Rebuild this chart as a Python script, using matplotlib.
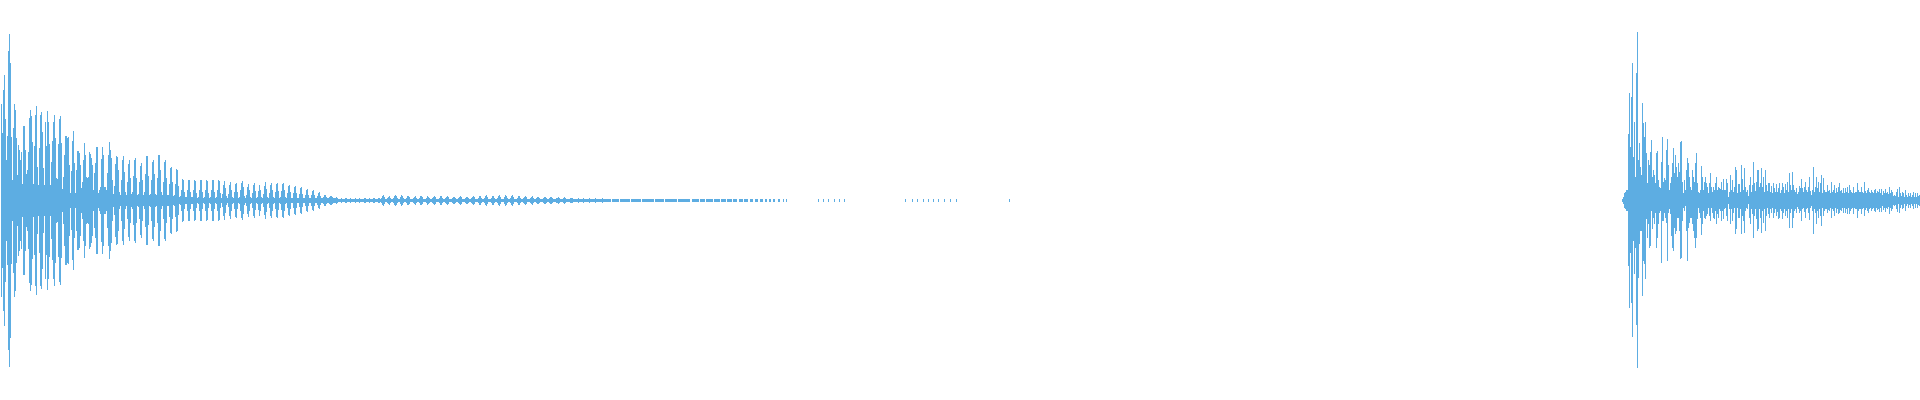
import numpy as np
import matplotlib.pyplot as plt

# ---------------- WAVEFORM DATA ----------------
# peak amplitude per pixel column, in 1/200 of full scale

# first hit, columns 0-109
head_amp = [
    96, 67, 110, 125, 81, 40, 64, 149, 166, 137,
    63, 20, 72, 96, 90, 62, 25, 55, 50, 40,
    48, 16, 74, 74, 50, 26, 30, 48, 82, 90,
    84, 58, 16, 54, 85, 94, 33, 15, 52, 85,
    88, 68, 32, 15, 78, 54, 89, 78, 56, 15,
    38, 59, 78, 85, 62, 22, 21, 56, 81, 84,
    57, 11, 23, 45, 64, 64, 62, 63, 35, 7,
    29, 59, 69, 37, 7, 30, 49, 49, 47, 35,
    12, 18, 40, 57, 45, 23, 22, 23, 48, 46,
    42, 35, 10, 27, 37, 53, 53, 7, 10, 13,
    41, 53, 45, 13, 13, 10, 27, 45, 58, 50,
]

# columns 110-219
decay_amp = [
    42, 20, 6, 14, 36, 44, 43, 30, 8, 5,
    20, 40, 44, 28, 8, 5, 18, 36, 40, 22,
    6, 8, 24, 40, 42, 22, 5, 6, 18, 34,
    37, 20, 5, 8, 26, 44, 44, 24, 5, 6,
    20, 38, 40, 26, 6, 5, 22, 45, 45, 30,
    8, 5, 18, 38, 40, 22, 5, 5, 16, 32,
    33, 18, 4, 5, 16, 31, 30, 14, 3, 4,
    10, 21, 20, 8, 3, 3, 10, 20, 20, 8,
    3, 3, 10, 20, 19, 7, 2, 3, 10, 20,
    20, 8, 2, 3, 10, 20, 19, 7, 2, 3,
    10, 20, 20, 8, 2, 3, 10, 20, 19, 7,
]

# columns 220-337
tail_amp = [
    2, 6, 15, 19, 12, 4, 2, 6, 15, 18,
    10, 3, 2, 8, 16, 17, 8, 2, 3, 10,
    17, 19, 13, 4, 2, 5, 13, 16, 10, 3,
    2, 7, 15, 17, 9, 2, 3, 9, 15, 10,
    3, 2, 6, 14, 18, 11, 3, 2, 7, 15,
    17, 10, 3, 2, 8, 16, 17, 9, 2, 3,
    9, 16, 17, 10, 3, 2, 7, 14, 15, 8,
    2, 2, 7, 13, 14, 7, 2, 2, 6, 12,
    13, 6, 2, 2, 5, 10, 11, 5, 2, 2,
    5, 9, 10, 5, 2, 2, 4, 7, 8, 4,
    2, 2, 3, 5, 5, 3, 2, 2, 3, 4,
    4, 3, 2, 2, 2, 3, 2, 1,
]

# columns 338-785, the long quiet ring-out
quiet_amp = [
    1, 1, 2, 1, 1, 1, 2, 2, 1, 1, 1, 2, 1, 1, 1, 1, 2, 1, 1, 1, 2,
    1, 1, 1, 1, 2, 2, 1, 1, 1, 2, 1, 1, 1, 2, 2, 1, 1, 1, 2, 2, 1,
    2, 4, 5, 3, 1, 1,  2, 3, 4, 2, 1, 1,  2, 4, 5, 4, 2, 1, 1,
    3, 5, 4, 2, 1, 1,  2, 4, 4, 3, 1, 1, 1,  2, 3, 4, 2, 1, 1,
    2, 4, 4, 3, 1, 1, 1,  2, 4, 3, 2, 1, 1,  2, 3, 4, 3, 1, 1, 1,
    2, 4, 4, 2, 1, 1,  2, 3, 4, 3, 1, 1, 1,  2, 3, 3, 2, 1, 1,
    2, 3, 4, 3, 1, 1, 1,  2, 3, 3, 2, 1, 1,  2, 3, 4, 3, 1, 1, 1,
    2, 4, 4, 2, 1, 1,  2, 4, 5, 3, 1, 1, 1,  2, 4, 4, 2, 1, 1,
    2, 4, 5, 3, 1, 1, 1,  3, 5, 4, 2, 1, 1,  2, 4, 5, 3, 1, 1, 1,
    2, 4, 4, 2, 1, 1,  2, 3, 4, 3, 1, 1, 1,  2, 3, 4, 2, 1, 1,
    2, 3, 3, 2, 1, 1, 1,  2, 3, 3, 2, 1, 1,  2, 3, 3, 2, 1, 1, 1,
    2, 2, 3, 2, 1, 1,  1, 2, 3, 2, 1, 1, 1,  1, 2, 2, 2, 1, 1, 1,
    1, 1, 2, 1, 1, 1, 1, 2, 1, 1, 1, 1, 1, 2, 1, 1,
    1, 1, 1, 2, 1, 1, 1, 1, 1, 1, 2, 1, 1, 1, 1,
    1, 1, 1, 1, 0, 1, 1, 1, 1, 1, 1, 1, 0, 1, 1, 1, 1, 1, 1, 1,
    1, 1, 1, 0, 1, 1, 1, 1, 1, 1, 1, 1, 1, 1, 0, 1, 1, 1, 1, 1,
    1, 1, 1, 1, 1, 1, 1, 0, 1, 1, 1, 1, 1, 1, 1, 1, 1, 0, 1, 1,
    1, 1, 1, 1, 1, 1, 1, 1, 1, 1, 0, 1, 1, 1, 1, 1, 1, 1, 1, 1,
    1, 1, 1, 0, 0, 1, 1, 1, 1, 1, 1, 1, 0, 1, 1, 1, 1, 1, 0, 1,
    1, 1, 1, 1, 1, 1, 0, 1, 1, 1, 1, 1, 1, 0, 1, 1, 1, 1, 1, 0,
    1, 1, 1, 1, 1, 0, 1, 1, 1, 1, 0, 0, 1, 1, 1, 1, 0, 1, 1, 1,
    1, 0, 0, 1, 1, 1, 0, 0, 1, 1, 1, 0, 0, 1, 1, 1, 0, 0, 1, 1,
    0, 0, 1, 1, 0, 0, 1, 1, 0, 0, 0, 1, 1, 0, 0, 0, 1, 0, 0, 1,
]

# isolated non-zero samples after the ring-out
dot_cols = [817, 822, 827, 833, 838, 843, 904, 911, 916, 922,
            927, 932, 937, 943, 949, 955, 1008]

# second hit, starts at column 1621
hit_start = 1621
hit_top = [
    1, 3, 7, 8, 10, 10, 66, 107, 53, 103,
    137, 43, 78, 23, 127, 168, 40, 57, 33, 25,
    97, 77, 63, 78, 47, 17, 40, 35, 48, 60,
    23, 30, 25, 17, 47, 49, 20, 13, 12, 38,
    63, 18, 22, 20, 50, 61, 35, 10, 17, 23,
    37, 52, 27, 45, 33, 23, 37, 28, 58, 59,
    18, 7, 20, 10, 30, 42, 37, 23, 13, 10,
    30, 23, 18, 37, 47, 17, 8, 7, 10, 34,
    23, 10, 18, 23, 17, 13, 7, 17, 27, 13,
    8, 13, 10, 17, 23, 10, 13, 12, 11,
    18, 10, 21, 10, 10, 21, 17, 3, 8, 25,
    10, 20, 8, 13, 33, 30, 7, 16, 16, 8,
    35, 21, 10, 32, 13, 8, 10, 4, 15, 23,
    8, 15, 38, 17, 9, 18, 30, 30, 13, 17,
    32, 13, 23, 8, 30, 15, 9, 17, 17, 8,
    14, 7, 17, 12, 8, 16, 8, 12, 17, 7,
    10, 17, 13, 7, 16, 10, 18, 8, 27, 15,
    10, 28, 15, 10, 8, 12, 6, 8, 14, 12,
    21, 12, 8, 13, 18, 10, 8, 13, 23, 9,
    5, 10, 33, 8, 13, 23, 12, 18, 8, 17,
    25, 7, 22, 10, 8, 8, 15, 9, 10, 7,
    18, 8, 10, 15, 7, 12, 8, 13, 17, 9,
    10, 7, 12, 7, 12, 8, 13, 7, 15, 10,
    8, 7, 13, 7, 8, 8, 17, 10, 8, 8,
    13, 8, 7, 18, 9, 7, 10, 12, 8, 7,
    10, 8, 7, 10, 11, 7, 9, 8, 11, 7,
    11, 5, 9, 7, 11, 7, 8, 6, 13, 7,
    10, 8, 4, 5, 4, 8, 11, 3, 13, 7,
    4, 8, 7, 3, 10, 5, 3, 7, 4, 7,
    3, 5, 8, 3, 7, 3, 7, 4, 5, 3,
]
hit_bot = [
    1, 3, 7, 8, 10, 10, 65, 107, 52, 102,
    136, 40, 73, 47, 124, 167, 77, 43, 30, 30,
    95, 60, 63, 78, 18, 37, 23, 47, 45, 10,
    28, 17, 23, 12, 47, 37, 23, 12, 10, 62,
    20, 20, 12, 17, 22, 60, 12, 8, 13, 35,
    47, 50, 27, 33, 30, 17, 17, 30, 58, 57,
    20, 7, 10, 5, 30, 60, 27, 22, 17, 17,
    23, 30, 37, 47, 37, 18, 7, 12, 17, 34,
    23, 10, 17, 18, 15, 13, 7, 15, 20, 7,
    12, 17, 18, 10, 23, 13, 17, 8, 10,
    20, 10, 18, 8, 7, 15, 20, 3, 8, 23,
    8, 20, 12, 7, 33, 28, 7, 17, 17, 8,
    33, 15, 20, 32, 10, 7, 8, 3, 17, 23,
    8, 13, 37, 15, 8, 18, 30, 28, 8, 17,
    32, 10, 22, 8, 30, 15, 7, 13, 17, 8,
    12, 7, 17, 12, 8, 15, 11, 18, 17, 8,
    10, 18, 12, 8, 15, 10, 17, 8, 27, 12,
    8, 27, 17, 10, 8, 12, 6, 8, 12, 10,
    20, 8, 7, 11, 17, 8, 7, 12, 19, 7,
    5, 10, 33, 8, 12, 23, 10, 17, 8, 15,
    25, 7, 15, 10, 8, 8, 12, 9, 10, 7,
    17, 8, 10, 15, 7, 12, 8, 13, 12, 9,
    10, 7, 12, 7, 12, 8, 13, 7, 13, 10,
    8, 7, 13, 7, 8, 8, 17, 10, 8, 8,
    13, 8, 7, 15, 9, 7, 10, 12, 8, 7,
    10, 8, 7, 10, 11, 7, 9, 8, 11, 7,
    11, 5, 9, 7, 11, 7, 8, 6, 13, 7,
    10, 8, 4, 5, 4, 8, 11, 3, 12, 7,
    4, 8, 7, 3, 10, 5, 3, 7, 4, 7,
    3, 5, 8, 3, 7, 3, 7, 4, 5, 3,
]

WAVE_COLOR = '#5DADE2'
FULL_SCALE = 200.0

# ---------------- PLOT ----------------
fig = plt.figure(figsize=(19.2, 4), dpi=100)
ax = fig.add_axes([0, 0, 1, 1])

first = np.array(head_amp + decay_amp + tail_amp + quiet_amp) / FULL_SCALE
x_first = np.arange(len(first)) + 0.5
keep = first > 0
ax.vlines(x_first[keep], -first[keep], first[keep], color=WAVE_COLOR,
          linewidth=0.72, antialiased=False)

dots = np.array(dot_cols) + 0.5
ax.vlines(dots, -1 / FULL_SCALE, 1 / FULL_SCALE, color=WAVE_COLOR,
          linewidth=0.72, antialiased=False)

top = np.array(hit_top) / FULL_SCALE
bot = np.array(hit_bot) / FULL_SCALE
x_hit = hit_start + np.arange(len(top)) + 0.5
ax.vlines(x_hit, -bot, top, color=WAVE_COLOR, linewidth=0.72, antialiased=False)

ax.set_xlim(0, 1920)
ax.set_ylim(-1, 1)
ax.axis('off')

plt.savefig("out.png", dpi=100)
